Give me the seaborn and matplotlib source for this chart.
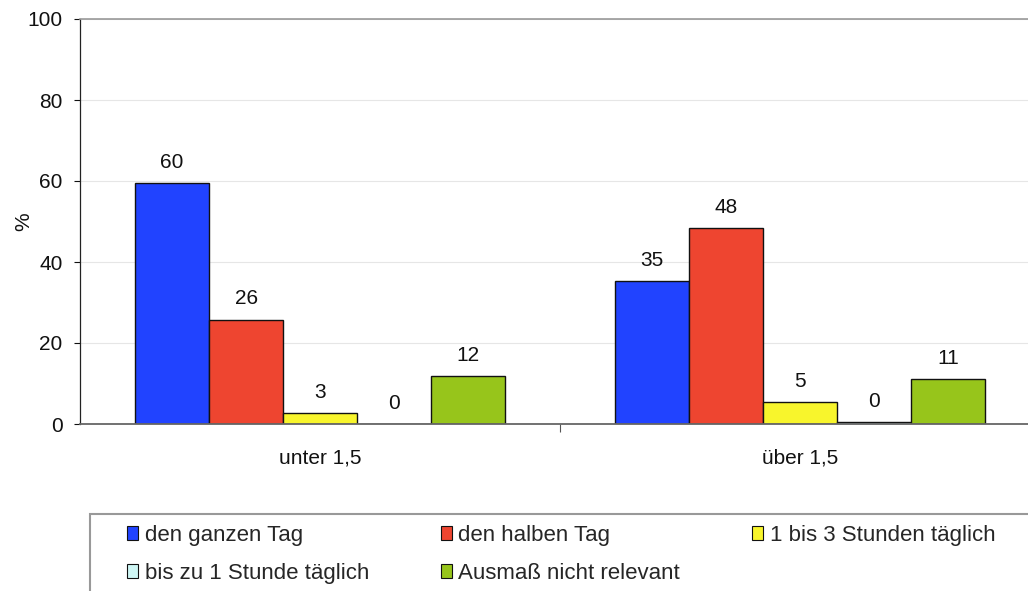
import pandas as pd
import matplotlib
matplotlib.use('Agg')
import matplotlib.pyplot as plt
from matplotlib.patches import Patch, Rectangle
from matplotlib.ticker import FixedLocator
import seaborn as sns

# data
groups = ['unter 1,5', 'über 1,5']
levels = ['den ganzen Tag', 'den halben Tag', '1 bis 3 Stunden täglich',
          'bis zu 1 Stunde täglich', 'Ausmaß nicht relevant']
unter = [59.5, 25.8, 2.6, 0.0, 11.8]
ueber = [35.4, 48.4, 5.4, 0.4, 11.1]
colors = ['#2143FF', '#EE4530', '#F8F52C', '#CFF7F5', '#97C51B']


def main():
   sns.set_style('white')
   plt.rcParams['font.family'] = ['Liberation Sans', 'DejaVu Sans']

   rows = []
   for g, vals in zip(groups, [unter, ueber]):
      for lev, v in zip(levels, vals):
         rows.append({'gruppe': g, 'auspraegung': lev, 'wert': v})
   df = pd.DataFrame(rows)

   fig = plt.figure(figsize=(10.28, 5.91), dpi=100)
   ax = fig.add_axes([80 / 1028, 167 / 591, 960 / 1028, 405 / 591])

   sns.barplot(df, x='gruppe', y='wert', hue='auspraegung', order=groups,
               hue_order=levels, palette=colors, width=0.77,
               edgecolor='#111111', linewidth=1.0, saturation=1,
               errorbar=None, legend=False, ax=ax)

   for cont in ax.containers:
      ax.bar_label(cont, labels=['%d' % round(b.get_height()) for b in cont],
                   padding=8, fontsize=15, color='#111111')

   ax.set_xlim(-0.5, 1.5)
   ax.set_ylim(0, 100)
   ax.set_yticks([0, 20, 40, 60, 80, 100])
   ax.yaxis.grid(True, color='#E6E6E6', lw=0.8)
   ax.set_axisbelow(True)
   ax.tick_params(axis='y', left=True, length=4.5, width=0.8, pad=8,
                  labelsize=15, colors='#111111')
   ax.tick_params(axis='x', which='major', length=0, pad=18, labelsize=15,
                  colors='#111111')
   ax.xaxis.set_minor_locator(FixedLocator([0.5]))
   ax.tick_params(axis='x', which='minor', bottom=True, length=6, width=0.8,
                  color='#555555')
   ax.set_xlabel('')
   ax.set_ylabel('%', fontsize=15, labelpad=-4, color='#111111')

   ax.spines['top'].set_color('#999999')
   ax.spines['top'].set_linewidth(1.2)
   ax.spines['right'].set_visible(False)
   ax.spines['left'].set_color('#222222')
   ax.spines['left'].set_linewidth(0.9)
   ax.spines['bottom'].set_color('#666666')
   ax.spines['bottom'].set_linewidth(1.3)

   # legend box, cut off at the figure edge like the original
   fig.patches.append(Rectangle((90 / 1028, -0.05), 1.0, (591 - 514) / 591 + 0.05,
                                transform=fig.transFigure, facecolor='white',
                                edgecolor='#999999', lw=1.5, zorder=0))
   handles = [Patch(facecolor=c, edgecolor='#111111', lw=0.8) for c in colors]
   order = [0, 3, 1, 4, 2]
   fig.legend([handles[i] for i in order], [levels[i] for i in order],
              loc='upper left', bbox_to_anchor=(127 / 1028, 1 - 525 / 591),
              ncol=3, frameon=False, fontsize=16, handlelength=0.5,
              handleheight=0.6, handletextpad=0.3, columnspacing=3.22,
              labelspacing=0.77, borderpad=0, borderaxespad=0)

   plt.savefig('out.png', dpi=100)


if __name__ == '__main__':
   main()
